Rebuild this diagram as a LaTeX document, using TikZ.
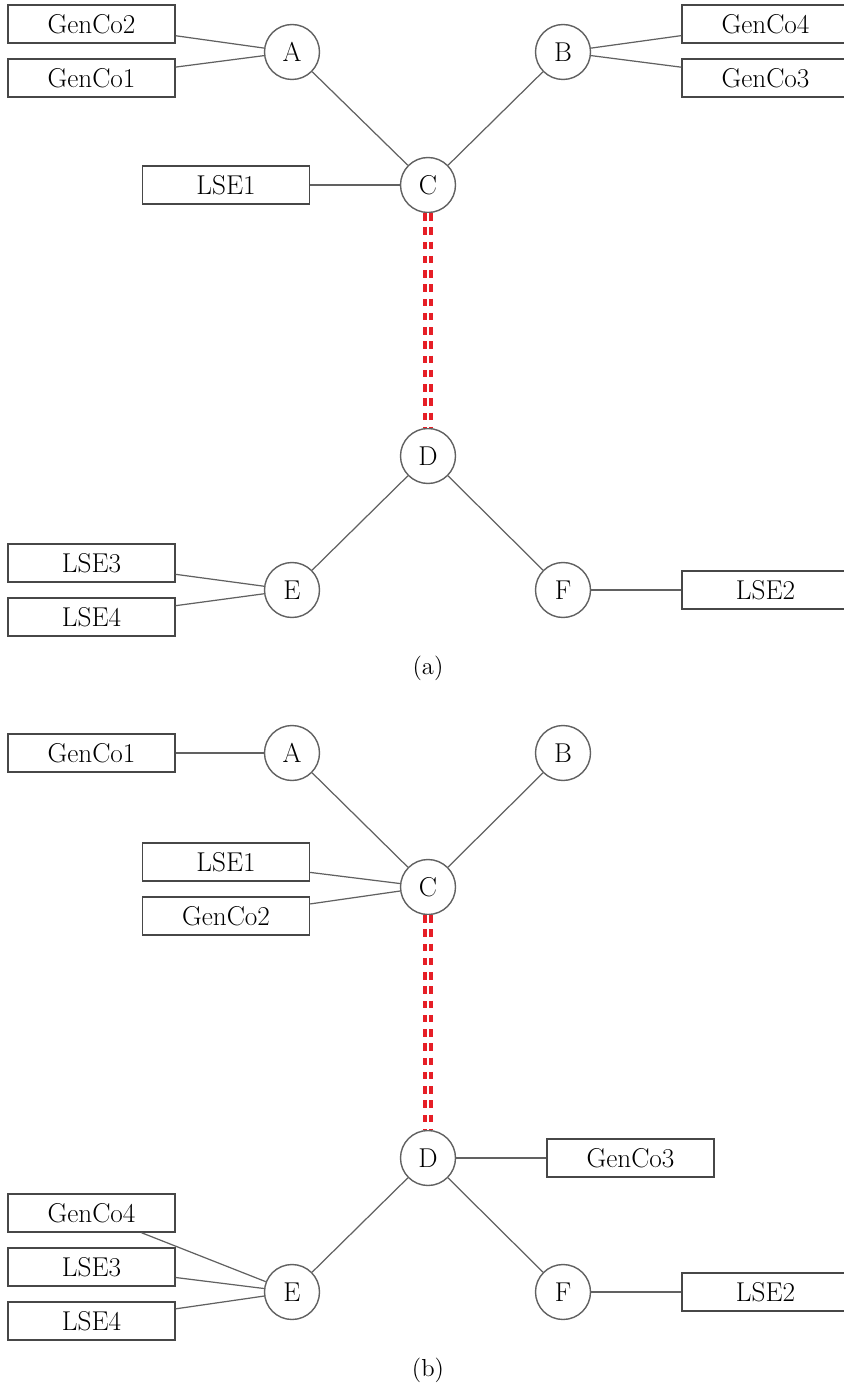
\documentclass[tikz,border=0pt]{standalone}
\usepackage{tikz}
\usetikzlibrary{positioning, calc}

\definecolor{tieRed}{RGB}{230,30,38}

\begin{document}
\begin{tikzpicture}[
    bus/.style={circle, draw=black!62, line width=0.8pt, fill=white, minimum size=1.1cm, inner sep=0pt, font=\fontsize{15.5}{18}\selectfont},
    agent/.style={rectangle, draw=black!72, line width=0.8pt, fill=white, minimum width=3.34cm, minimum height=0.76cm, inner sep=0pt, font=\fontsize{15.5}{18}\selectfont},
    line/.style={draw=black!62, line width=0.7pt},
    tie/.style={draw=tieRed, line width=0.08cm, double=white, double distance=0.03cm, dash pattern=on 0.15cm off 0.135cm},
    caption/.style={font=\fontsize{14}{17}\selectfont}
  ]
    \useasboundingbox (0,0) rectangle (16.86,-27.78);

    % (a) buses and market agents
    \node[bus] (Aa) at (5.84, -1.04) {A};
    \node[bus] (Ba) at (11.26, -1.04) {B};
    \node[bus] (Ca) at (8.56, -3.70) {C};
    \node[bus] (Da) at (8.56, -9.12) {D};
    \node[bus] (Ea) at (5.84, -11.80) {E};
    \node[bus] (Fa) at (11.26, -11.80) {F};
    \node[agent] (g2a) at (1.83, -0.48) {GenCo2};
    \node[agent] (g1a) at (1.83, -1.56) {GenCo1};
    \node[agent] (g4a) at (15.31, -0.48) {GenCo4};
    \node[agent] (g3a) at (15.31, -1.56) {GenCo3};
    \node[agent] (l1a) at (4.52, -3.70) {LSE1};
    \node[agent] (l3a) at (1.83, -11.26) {LSE3};
    \node[agent] (l4a) at (1.83, -12.34) {LSE4};
    \node[agent] (l2a) at (15.31, -11.80) {LSE2};
    \draw[line] (g2a) -- (Aa);
    \draw[line] (g1a) -- (Aa);
    \draw[line] (g4a) -- (Ba);
    \draw[line] (g3a) -- (Ba);
    \draw[line] (Aa) -- (Ca);
    \draw[line] (Ba) -- (Ca);
    \draw[line] (l1a) -- (Ca);
    \draw[tie] (Ca) -- (Da);
    \draw[line] (Da) -- (Ea);
    \draw[line] (Da) -- (Fa);
    \draw[line] (l3a) -- (Ea);
    \draw[line] (l4a) -- (Ea);
    \draw[line] (l2a) -- (Fa);
    \node[caption] (capa) at (8.56, -13.36) {(a)};

    % (b) same grid, agents moved
    \node[bus] (Ab) at (5.84, -15.06) {A};
    \node[bus] (Bb) at (11.26, -15.06) {B};
    \node[bus] (Cb) at (8.56, -17.74) {C};
    \node[bus] (Db) at (8.56, -23.16) {D};
    \node[bus] (Eb) at (5.84, -25.84) {E};
    \node[bus] (Fb) at (11.26, -25.84) {F};
    \node[agent] (g1b) at (1.83, -15.06) {GenCo1};
    \node[agent] (l1b) at (4.52, -17.24) {LSE1};
    \node[agent] (g2b) at (4.52, -18.32) {GenCo2};
    \node[agent] (g3b) at (12.61, -23.16) {GenCo3};
    \node[agent] (g4b) at (1.83, -24.26) {GenCo4};
    \node[agent] (l3b) at (1.83, -25.34) {LSE3};
    \node[agent] (l4b) at (1.83, -26.42) {LSE4};
    \node[agent] (l2b) at (15.31, -25.84) {LSE2};
    \draw[line] (g1b) -- (Ab);
    \draw[line] (Ab) -- (Cb);
    \draw[line] (Bb) -- (Cb);
    \draw[line] (l1b) -- (Cb);
    \draw[line] (g2b) -- (Cb);
    \draw[tie] (Cb) -- (Db);
    \draw[line] (Db) -- (g3b);
    \draw[line] (Db) -- (Eb);
    \draw[line] (Db) -- (Fb);
    \draw[line] (g4b) -- (Eb);
    \draw[line] (l3b) -- (Eb);
    \draw[line] (l4b) -- (Eb);
    \draw[line] (l2b) -- (Fb);
    \node[caption] (capb) at (8.56, -27.40) {(b)};
\end{tikzpicture}
\end{document}
